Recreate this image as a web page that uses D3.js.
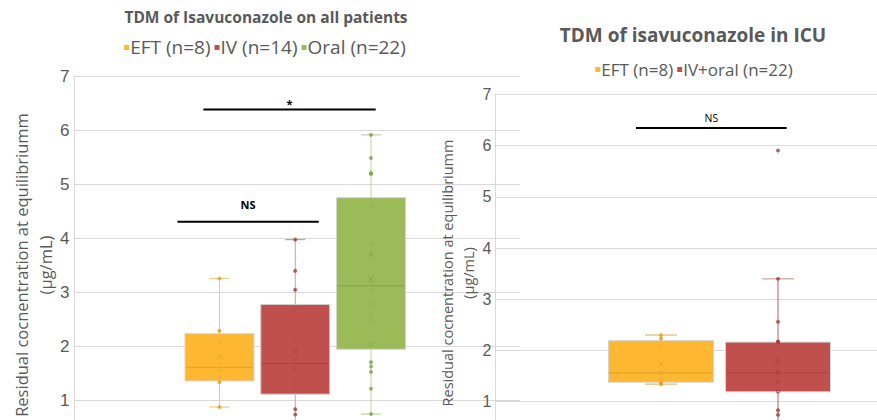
<!DOCTYPE html>
<html>
<head>
<meta charset="utf-8">
<script src="https://cdn.jsdelivr.net/npm/d3@7"></script>
<style>
  html, body { margin: 0; padding: 0; background: #fff; }
  svg { display: block; font-family: "Open Sans", "Noto Sans", sans-serif; }
</style>
</head>
<body>
<svg id="chart" width="877" height="420"></svg>
<script>
// ---- data ----
const yTicks = [1, 2, 3, 4, 5, 6, 7];

const leftTitle = "TDM of Isavuconazole on all patients";
const leftCategories = ["EFT (n=8)", "IV (n=14)", "Oral (n=22)"];
const leftEFT  = [3.25, 2.28, 2.07, 1.66, 1.55, 1.42, 1.33, 0.87];
const leftIV   = [3.97, 3.39, 3.04, 2.68, 2.16, 1.94, 1.75, 1.60, 1.56, 1.37, 1.20, 0.83, 0.73, 0.20];
const leftOral = [5.91, 5.48, 5.20, 5.19, 5.19, 4.60, 3.88, 3.73, 3.70, 3.67, 3.20,
                  3.03, 2.77, 2.56, 2.47, 2.02, 2.02, 1.70, 1.62, 1.52, 1.21, 0.74];
const leftSignif = [
  { from: 0, to: 1, level: 4.3, label: "NS" },
  { from: 0.5, to: 2, level: 6.38, label: "*" }
];

const rightTitle = "TDM  of isavuconazole in ICU";
const rightCategories = ["EFT (n=8)", "IV+oral (n=22)"];
const rightEFT    = [2.29, 2.22, 2.06, 1.55, 1.55, 1.42, 1.35, 1.33];
const rightIVOral = [5.90, 3.39, 2.55, 2.16, 2.16, 2.15, 2.15, 1.82, 1.70, 1.59, 1.55,
                     1.55, 1.51, 1.37, 1.37, 1.19, 1.18, 1.18, 0.82, 0.73, 0.50, 0.40];
const rightSignif = [{ from: 0, to: 1, level: 6.34, label: "NS" }];

const yTitle1 = "Residual cocnentration at equilibriumm";
const yTitle2 = "(µg/mL)";

const palette = {
  fill:   ["#FDB731", "#C0504D", "#9BBB59"],
  dark:   ["#E0A22A", "#A9423F", "#86A34A"],
  whisk:  ["#E9C98C", "#D49A98", "#C3CFA6"]
};

// ---- helpers ----
function quantileExc(sorted, p) {
  const n = sorted.length;
  let pos = p * (n + 1);
  if (pos < 1) pos = 1;
  if (pos > n) pos = n;
  const lo = Math.floor(pos), frac = pos - lo;
  const a = sorted[lo - 1], b = sorted[Math.min(lo, n - 1)];
  return a + frac * (b - a);
}

function boxStats(values) {
  const s = values.slice().sort(d3.ascending);
  const q1 = quantileExc(s, 0.25), med = quantileExc(s, 0.5), q3 = quantileExc(s, 0.75);
  const iqr = q3 - q1;
  const inside = s.filter(v => v >= q1 - 1.5 * iqr && v <= q3 + 1.5 * iqr);
  return {
    q1, med, q3,
    lo: d3.min(inside), hi: d3.max(inside),
    mean: d3.mean(s),
    values: s
  };
}

const svg = d3.select("#chart");

function drawChart(cfg) {
  const g = svg.append("g");
  const y = d3.scaleLinear().domain([1, 7]).range([cfg.y1, cfg.y7]);
  const x = d3.scalePoint().domain(cfg.categories).range(cfg.centers);

  // gridlines
  g.append("g").selectAll("line").data(yTicks).join("line")
    .attr("x1", cfg.left).attr("x2", cfg.right)
    .attr("y1", d => Math.round(y(d)) + 0.5).attr("y2", d => Math.round(y(d)) + 0.5)
    .attr("stroke", "#D9D9D9").attr("stroke-width", 1);

  // y axis
  const axis = d3.axisLeft(y).tickValues(yTicks).tickSize(0).tickPadding(0).tickFormat(d3.format("d"));
  const ag = g.append("g").attr("transform", `translate(${cfg.left + 0.5},0)`).call(axis);
  ag.select(".domain").attr("stroke", "#D9D9D9").attr("d", `M0,${y(7)}V420`);
  ag.selectAll("text")
    .attr("x", cfg.tickEnd - cfg.left)
    .attr("dy", "0.34em")
    .attr("fill", "#595959").attr("font-size", cfg.tickSize);

  // axis title
  [[yTitle1, cfg.yTitleX[0]], [yTitle2, cfg.yTitleX[1]]].forEach(([t, tx]) => {
    g.append("text")
      .attr("transform", `translate(${tx},${cfg.yTitleY}) rotate(-90)`)
      .attr("text-anchor", "middle").attr("dominant-baseline", "central")
      .attr("fill", "#595959").attr("font-size", cfg.yTitleSize).text(t);
  });

  // chart title
  g.append("text").attr("x", cfg.titleX).attr("y", cfg.titleY)
    .attr("text-anchor", "middle").attr("dominant-baseline", "central")
    .attr("font-weight", "bold").attr("font-size", cfg.titleSize)
    .attr("fill", "#595959").text(cfg.title);

  // legend
  const lg = g.append("g");
  let cx = 0;
  cfg.categories.forEach((c, i) => {
    lg.append("rect").attr("x", cx).attr("y", -2).attr("width", 5).attr("height", 5)
      .attr("fill", palette.fill[i]);
    const t = lg.append("text").attr("x", cx + 6).attr("y", 0)
      .attr("dominant-baseline", "central")
      .attr("fill", "#595959").attr("font-size", cfg.legendSize).text(c);
    cx += 6 + t.node().getComputedTextLength() + 4;
  });
  const lw = cx - 4;
  lg.attr("transform", `translate(${cfg.legendX - lw / 2},${cfg.legendY})`);

  // boxes
  cfg.series.forEach((vals, i) => {
    const st = boxStats(vals);
    const cxp = x(cfg.categories[i]);
    const bw = cfg.boxWidth;
    const sg = g.append("g");

    // whisker
    sg.append("line").attr("x1", cxp).attr("x2", cxp)
      .attr("y1", y(st.hi)).attr("y2", y(st.lo))
      .attr("stroke", palette.whisk[i]).attr("stroke-width", cfg.whiskWidth);
    [st.hi, st.lo].forEach(v => {
      sg.append("line").attr("x1", cxp - cfg.capWidth / 2).attr("x2", cxp + cfg.capWidth / 2)
        .attr("y1", y(v)).attr("y2", y(v))
        .attr("stroke", cfg.capColor ? cfg.capColor[i] : palette.whisk[i])
        .attr("stroke-width", cfg.capStroke);
    });

    // box
    sg.append("rect")
      .attr("x", cxp - bw / 2).attr("width", bw)
      .attr("y", y(st.q3)).attr("height", y(st.q1) - y(st.q3))
      .attr("fill", palette.fill[i])
      .attr("stroke", "#D4D4D4").attr("stroke-width", 1);

    // median
    sg.append("line").attr("x1", cxp - bw / 2 + 1).attr("x2", cxp + bw / 2 - 1)
      .attr("y1", y(st.med)).attr("y2", y(st.med))
      .attr("stroke", palette.dark[i]).attr("stroke-width", 1);

    // points
    sg.selectAll("circle.pt").data(st.values).join("circle")
      .attr("class", "pt")
      .attr("cx", cxp).attr("cy", d => y(d)).attr("r", 1.6)
      .attr("fill", d => (d > st.q3 || d < st.q1) ? palette.dark[i] : "none")
      .attr("stroke", palette.dark[i]).attr("stroke-width", 0.8)
      .attr("opacity", d => (d > st.q3 || d < st.q1) ? 0.85 : 0.5);

    // mean marker
    const m = y(st.mean), r = 3;
    sg.append("path")
      .attr("d", `M${cxp - r},${m - r}L${cxp + r},${m + r}M${cxp - r},${m + r}L${cxp + r},${m - r}`)
      .attr("stroke", palette.dark[i]).attr("stroke-width", 1).attr("opacity", 0.7);
  });

  // significance bars
  const idx = i => {
    const a = x(cfg.categories[Math.floor(i)]);
    const b = x(cfg.categories[Math.ceil(i)]);
    return a + (b - a) * (i - Math.floor(i));
  };
  cfg.signif.forEach(s => {
    const x1 = idx(s.from) + s.padL, x2 = idx(s.to) + s.padR;
    g.append("line").attr("x1", x1).attr("x2", x2)
      .attr("y1", y(s.level)).attr("y2", y(s.level))
      .attr("stroke", "#000").attr("stroke-width", 2);
    g.append("text").attr("x", (x1 + x2) / 2).attr("y", y(s.level) - s.gap)
      .attr("text-anchor", "middle").attr("dominant-baseline", "central")
      .attr("font-size", cfg.signifSize).attr("font-weight", cfg.signifWeight)
      .attr("fill", "#000").text(s.label);
  });
}

leftSignif[0].padL = -42; leftSignif[0].padR = 23.5; leftSignif[0].gap = 17;
leftSignif[1].padL = -54; leftSignif[1].padR = 4.7;  leftSignif[1].gap = 6;
rightSignif[0].padL = -25; rightSignif[0].padR = 8.7; rightSignif[0].gap = 10;

drawChart({
  title: leftTitle, titleX: 266, titleY: 17, titleSize: 15.5,
  legendX: 265, legendY: 47, legendSize: 19,
  categories: leftCategories, series: [leftEFT, leftIV, leftOral],
  centers: [219.5, 371], boxWidth: 69, capWidth: 20, capStroke: 1.2, whiskWidth: 1,
  left: 74, right: 520, y1: 400, y7: 76, tickEnd: 69, tickSize: 17,
  yTitleX: [21, 45], yTitleY: 265, yTitleSize: 16.5,
  signif: leftSignif, signifSize: 11, signifWeight: "bold"
});

drawChart({
  title: rightTitle, titleX: 693, titleY: 35, titleSize: 19,
  legendX: 694, legendY: 69, legendSize: 17,
  categories: rightCategories, series: [rightEFT, rightIVOral],
  centers: [661, 778], boxWidth: 105, capWidth: 32, capStroke: 1.5, whiskWidth: 1.6,
  capColor: ["#E9C98C", "#D9B4B4"],
  left: 495, right: 877, y1: 401, y7: 94.3, tickEnd: 491, tickSize: 16,
  yTitleX: [447, 468], yTitleY: 273, yTitleSize: 14.5,
  signif: rightSignif, signifSize: 10.5, signifWeight: "normal"
});
</script>
</body>
</html>
